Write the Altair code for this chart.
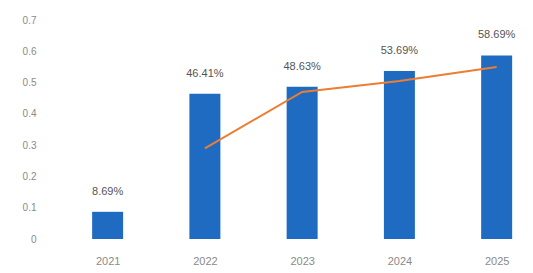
import altair as alt
import pandas as pd

years = [2021, 2022, 2023, 2024, 2025]
bar_values = [0.0869, 0.4641, 0.4863, 0.5369, 0.5869]
bar_labels = ["8.69%", "46.41%", "48.63%", "53.69%", "58.69%"]
line_years = [2022, 2023, 2024, 2025]
line_values = [0.29, 0.47, 0.505, 0.55]
y_ticks = [0, 0.1, 0.2, 0.3, 0.4, 0.5, 0.6, 0.7]

bars_df = pd.DataFrame({"year": years, "value": bar_values, "label": bar_labels})
line_df = pd.DataFrame({"year": line_years, "value": line_values})

x_scale = alt.Scale(domain=[2020.5, 2025.24], nice=False, zero=False)
y_scale = alt.Scale(domain=[0, 0.7], nice=False)

x_axis = alt.Axis(values=years, format="d", title=None, domain=False, ticks=False,
                  grid=False, labelColor="#8a8a8a", labelFontSize=11, labelPadding=16,
                  labelFont="Liberation Sans", labelOverlap=False)
y_axis = alt.Axis(values=y_ticks, title=None, domain=False, ticks=False, grid=False,
                  labelColor="#8a8a8a", labelFontSize=10, labelPadding=18,
                  labelFont="Liberation Sans", labelOverlap=False, labelBound=False,
                  labelExpr="datum.value == 0 ? '0' : format(datum.value, '.1f')")

bars = alt.Chart(bars_df).mark_bar(size=31, color="#1f6bc2").encode(
    x=alt.X("year:Q", scale=x_scale, axis=x_axis),
    y=alt.Y("value:Q", scale=y_scale, axis=y_axis),
)

texts = alt.Chart(bars_df).mark_text(dy=-15, baseline="bottom", fontSize=11,
                                     color="#555555", font="Liberation Sans").encode(
    x=alt.X("year:Q", scale=x_scale, axis=x_axis),
    y=alt.Y("value:Q", scale=y_scale, axis=y_axis),
    text="label:N",
)

line = alt.Chart(line_df).mark_line(color="#ed7d31", strokeWidth=2).encode(
    x=alt.X("year:Q", scale=x_scale, axis=x_axis),
    y=alt.Y("value:Q", scale=y_scale, axis=y_axis),
)

chart = alt.layer(bars, line, texts).properties(
    width=471, height=219,
    background="white",
    autosize=alt.AutoSizeParams(type="none"),
    padding={"left": 46, "top": 12, "right": 0, "bottom": 26},
).configure_view(strokeWidth=0, stroke=None)

chart.save("out.html", embed_options={"renderer": "svg", "actions": False})
